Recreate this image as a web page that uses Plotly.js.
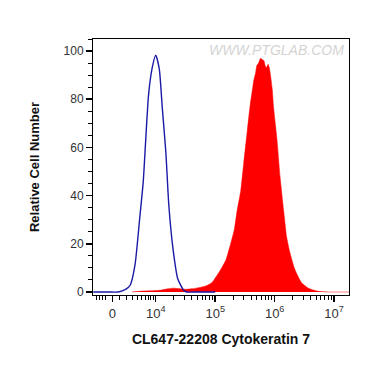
<!DOCTYPE html>
<html>
<head>
<meta charset="utf-8">
<script src="https://cdn.plot.ly/plotly-3.0.1.min.js"></script>
<style>html,body{margin:0;padding:0;background:#fff;}#chart{width:370px;height:365px;}</style>
</head>
<body>
<div id="chart"></div>
<script>
// x values are fluorescence intensity in log10 display units (decades) on the biexponential axis
const blueX = [2.95, 3.2, 3.37, 3.5, 3.57, 3.65, 3.73, 3.79, 3.83, 3.88, 3.94, 4.0, 4.06, 4.11, 4.17, 4.22, 4.29, 4.37, 4.47, 4.52, 4.7, 5.0];
const blueY = [0, 0, 0, 1.2, 2.8, 11, 30.5, 45.8, 62.5, 82, 93, 98.3, 92.5, 76.4, 58, 36, 18, 5.5, 0.7, 0, 0, 0];

const redX = [3.6, 3.79, 3.95, 4.1, 4.2, 4.3, 4.38, 4.5, 4.6, 4.68, 4.76, 4.84, 4.9, 4.96, 5.02, 5.07, 5.12, 5.18, 5.22, 5.26, 5.32, 5.37, 5.43, 5.48, 5.54, 5.59, 5.62, 5.65, 5.68, 5.7, 5.73, 5.76, 5.79, 5.82, 5.84, 5.86, 5.89, 5.91, 5.93, 5.96, 5.98, 6.01, 6.04, 6.09, 6.15, 6.2, 6.25, 6.29, 6.33, 6.37, 6.42, 6.46, 6.52, 6.57, 6.65, 6.73, 6.9, 7.25];
const redY = [0, 0.4, 0.5, 0.8, 1.3, 1.6, 1.4, 1.1, 1.3, 1.6, 2.0, 2.5, 3.2, 4.3, 6.5, 8.4, 10.5, 13.3, 16.5, 20, 25.7, 34, 42, 53.5, 67, 78, 83, 88, 91, 94, 95, 97, 96.5, 96, 94, 93, 94.5, 93, 90, 84, 77, 70, 63, 48, 34, 23, 17, 13.3, 10, 7.7, 5.2, 3.6, 2.4, 1.5, 0.8, 0.3, 0, 0];

const xTickVals = [3.27, 4, 5, 6, 7];
const xTickText = ['0', '10<sup>4</sup>', '10<sup>5</sup>', '10<sup>6</sup>', '10<sup>7</sup>'];
const xMinorVals = [3.0, 3.05, 3.1, 3.15, 3.39, 3.51, 3.61, 3.69, 3.76, 3.82, 3.87, 3.92, 3.96,
  4.301, 4.477, 4.602, 4.699, 4.778, 4.845, 4.903, 4.954,
  5.301, 5.477, 5.602, 5.699, 5.778, 5.845, 5.903, 5.954,
  6.301, 6.477, 6.602, 6.699, 6.778, 6.845, 6.903, 6.954];
const yTickVals = [0, 20, 40, 60, 80, 100];

const font = 'Arial, "Liberation Sans", sans-serif';

const traces = [
  {x: redX, y: redY, type: 'scatter', mode: 'lines', fill: 'tozeroy',
   fillcolor: '#ff0000', line: {color: '#ff0000', width: 0.5, shape: 'spline', smoothing: 0.4}, hoverinfo: 'skip'},
  {x: blueX, y: blueY, type: 'scatter', mode: 'lines',
   line: {color: '#1a1aa6', width: 1.4, shape: 'spline', smoothing: 0.6}, hoverinfo: 'skip'}
];

const layout = {
  width: 370, height: 365,
  margin: {l: 93, r: 21, t: 39, b: 70},
  paper_bgcolor: '#fff', plot_bgcolor: '#fff',
  showlegend: false,
  font: {family: font, size: 12, color: '#333'},
  xaxis: {
    range: [2.945, 7.25], showgrid: false, zeroline: false,
    tickmode: 'array', tickvals: xTickVals, ticktext: xTickText,
    ticks: 'outside', ticklen: 6, tickwidth: 1.5, tickcolor: '#000',
    showline: true, linecolor: '#000', linewidth: 1, mirror: true,
    tickfont: {family: font, size: 13, color: '#333'},
    minor: {tickmode: 'array', tickvals: xMinorVals, ticks: 'outside', ticklen: 4, tickwidth: 1, tickcolor: '#000'},
    title: {text: '<b>CL647-22208 Cytokeratin 7</b>', font: {family: font, size: 14, color: '#111'}, standoff: 14}
  },
  yaxis: {
    range: [-1.25, 105], showgrid: false, zeroline: false,
    tickmode: 'array', tickvals: yTickVals,
    ticks: 'outside', ticklen: 6, tickwidth: 1.5, tickcolor: '#000',
    showline: true, linecolor: '#000', linewidth: 1, mirror: true,
    tickfont: {family: font, size: 12, color: '#333'},
    minor: {dtick: 5, ticks: 'outside', ticklen: 4, tickwidth: 1, tickcolor: '#000'},
    title: {text: '<b>Relative Cell Number</b>', font: {family: font, size: 13, color: '#111'}, standoff: 21}
  },
  annotations: [{
    xref: 'paper', yref: 'paper', x: 0.99, y: 0.995, xanchor: 'right', yanchor: 'top',
    text: '<i>WWW.PTGLAB.COM</i>', showarrow: false,
    font: {family: font, size: 14, color: '#d4d4d4'}
  }]
};

Plotly.newPlot('chart', traces, layout, {staticPlot: true, displayModeBar: false});
</script>
</body>
</html>
